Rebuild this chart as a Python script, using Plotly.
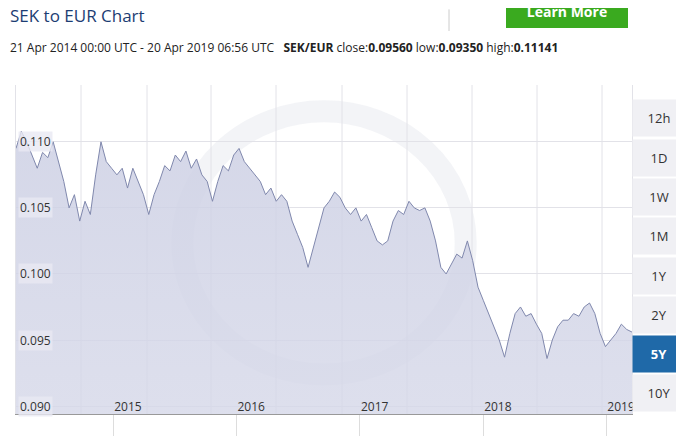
import pandas as pd
import plotly.graph_objects as go

# SEK/EUR close, roughly every two weeks
rates = [
    0.1095, 0.1108, 0.1100, 0.1090, 0.1080, 0.1092, 0.1088, 0.1100, 0.1085, 0.1070,
    0.1050, 0.1060, 0.1040, 0.1055, 0.1045, 0.1075, 0.1100, 0.1085, 0.1080, 0.1075,
    0.1080, 0.1065, 0.1080, 0.1070, 0.1060, 0.1045, 0.1060, 0.1070, 0.1082, 0.1078,
    0.1090, 0.1085, 0.1093, 0.1080, 0.1087, 0.1075, 0.1070, 0.1055, 0.1070, 0.1082,
    0.1078, 0.1090, 0.1095, 0.1085, 0.1080, 0.1075, 0.1070, 0.1060, 0.1065, 0.1055,
    0.1060, 0.1055, 0.1040, 0.1030, 0.1020, 0.1005, 0.1020, 0.1035, 0.1050, 0.1055,
    0.1062, 0.1058, 0.1050, 0.1045, 0.1050, 0.1040, 0.1045, 0.1035, 0.1025, 0.1022,
    0.1025, 0.1040, 0.1048, 0.1045, 0.1055, 0.1050, 0.1048, 0.1050, 0.1040, 0.1025,
    0.1005, 0.1000, 0.1008, 0.1015, 0.1012, 0.1025, 0.1010, 0.0990, 0.0980, 0.0970,
    0.0960, 0.0950, 0.0937, 0.0955, 0.0970, 0.0975, 0.0968, 0.0970, 0.0962, 0.0955,
    0.0936, 0.0950, 0.0960, 0.0965, 0.0965, 0.0970, 0.0968, 0.0975, 0.0978, 0.0970,
    0.0955, 0.0945, 0.0950, 0.0955, 0.0962, 0.0958, 0.0956,
]
dates = pd.date_range("2014-04-21", "2019-04-20", periods=len(rates))

year_ticks = ["2015-02-03", "2016-02-03", "2017-02-03", "2018-02-03", "2019-02-03"]
year_labels = ["2015", "2016", "2017", "2018", "2019"]
y_ticks = [0.090, 0.095, 0.100, 0.105, 0.110]
buttons = ["12h", "1D", "1W", "1M", "1Y", "2Y", "5Y", "10Y"]


def py(p):
    # pixel row -> paper y (plot area spans rows 77..412)
    return (412 - p) / 335


def px(p):
    # pixel column -> paper x (plot area spans columns 8..624)
    return (p - 8) / 616


fig = go.Figure()
fig.add_trace(go.Scatter(
    x=dates, y=rates, mode="lines",
    line=dict(color="#8088ad", width=1),
    fill="tozeroy",
    fillgradient=dict(type="vertical",
                      colorscale=[[0, "rgba(246,246,250,0.6)"], [1, "rgba(205,208,228,0.85)"]]),
    hoverinfo="x+y",
))

# faint watermark ring
fig.add_shape(type="circle", xref="paper", yref="paper", x0=0.27, x1=0.73, y0=0.12, y1=0.92,
              line=dict(color="rgba(215,217,230,0.3)", width=22), layer="below")

# vertical grid lines
for g in [73, 139, 203, 268, 334, 399, 464, 529, 594]:
    fig.add_shape(type="line", xref="paper", yref="paper", x0=px(g), x1=px(g),
                  y0=0, y1=1, line=dict(color="#e2e2e8", width=1), layer="below")

for v in y_ticks:
    fig.add_annotation(x=0, xref="paper", y=v, yref="y", text=f"{v:.3f}", showarrow=False,
                       xanchor="left", yanchor="middle", xshift=2,
                       font=dict(size=12, color="#333", family="Open Sans"),
                       bgcolor="rgba(232,233,242,0.8)")

for i, b in enumerate(buttons):
    sel = b == "5Y"
    fig.add_annotation(xref="paper", yref="paper", x=px(651), y=py(111 + i * 40),
                       text=f"<b>{b}</b>" if sel else b, showarrow=False,
                       width=50, height=34, xanchor="center", yanchor="middle",
                       bgcolor="#1f69a8" if sel else "#f0f0f4",
                       font=dict(size=13, color="white" if sel else "#333", family="Open Sans"))

fig.add_annotation(xref="paper", yref="paper", x=px(0), y=py(6), xanchor="left",
                   yanchor="middle", showarrow=False, text="SEK to EUR Chart",
                   font=dict(size=17, color="#1c3d73", family="Open Sans"))
fig.add_annotation(xref="paper", yref="paper", x=px(0), y=py(39), xanchor="left",
                   yanchor="middle", showarrow=False,
                   text="21 Apr 2014 00:00 UTC - 20 Apr 2019 06:56 UTC   <b>SEK/EUR</b> close:<b>0.09560</b>"
                        " low:<b>0.09350</b> high:<b>0.11141</b>",
                   font=dict(size=12, color="#222", family="Open Sans"))
fig.add_shape(type="line", xref="paper", yref="paper", x0=px(441), x1=px(441),
              y0=py(0), y1=py(22), line=dict(color="#ccc", width=1))
fig.add_shape(type="rect", xref="paper", yref="paper", x0=px(498), x1=px(620),
              y0=py(-12), y1=py(19), fillcolor="#3aaa1f", line=dict(width=0),
              label=dict(text="<b>Learn More</b>", textposition="middle center",
                         font=dict(size=14, color="white", family="Open Sans")))

fig.update_layout(
    width=684, height=436, margin=dict(l=8, r=60, t=77, b=24),
    plot_bgcolor="white", paper_bgcolor="white", showlegend=False,
    xaxis=dict(range=[dates[0], dates[-1]], tickvals=year_ticks, ticktext=year_labels,
               showgrid=False, ticks="outside", ticklen=22, tickcolor="#ddd",
               ticklabelposition="outside right", ticklabelstandoff=-18,
               tickfont=dict(size=12, color="#333", family="Open Sans"),
               showline=True, linecolor="#999", zeroline=False),
    yaxis=dict(range=[0.0894, 0.1143], tickvals=y_ticks, showticklabels=False,
               gridcolor="#e2e2e8", zeroline=False, showline=True, linecolor="#e2e2e8",
               mirror=True),
)

fig.write_html("out.html")
